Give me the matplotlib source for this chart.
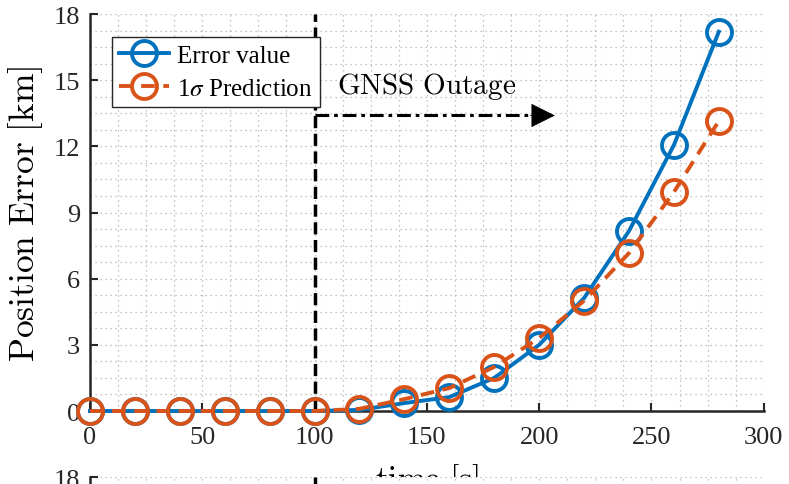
import numpy as np
import matplotlib.pyplot as plt
from matplotlib.ticker import AutoMinorLocator

plt.rcParams['font.family'] = ['Liberation Serif', 'DejaVu Serif']
plt.rcParams['mathtext.fontset'] = 'stix'

# position error during the outage, sampled every 20 s
time_s = [0, 20, 40, 60, 80, 100, 120, 140, 160, 180, 200, 220, 240, 260, 280]
err_value = [0, 0, 0, 0, 0, 0, 0.05, 0.36, 0.63, 1.5, 3.0, 5.12, 8.16, 12.06, 17.2]
sigma_pred = [0, 0, 0, 0, 0, 0, 0.1, 0.54, 1.04, 2.0, 3.31, 5.0, 7.16, 9.93, 13.15]

outage_start = 100
arrow_end = 207
arrow_y = 13.4

blue = '#0072BD'
orange = '#D95319'
axcol = '#262626'

fig = plt.figure(figsize=(7.89, 4.85), dpi=100)
ax = fig.add_axes([0.114, 0.1505, 0.854, 0.8185])


def style_axes(a):
    a.set_xlim(0, 300)
    a.set_ylim(0, 18)
    a.set_xticks([0, 50, 100, 150, 200, 250, 300])
    a.set_yticks([0, 3, 6, 9, 12, 15, 18])
    a.xaxis.set_minor_locator(AutoMinorLocator(4))
    a.yaxis.set_minor_locator(AutoMinorLocator(4))
    a.tick_params(which='major', direction='in', length=6, width=1.5,
                  colors=axcol, labelsize=19)
    a.tick_params(axis='x', pad=11)
    a.tick_params(axis='y', pad=7)
    a.tick_params(which='minor', length=0)
    a.grid(which='both', linestyle=(0, (1, 3)), color='#b0b0b0', linewidth=0.9)
    for s in ['top', 'right']:
        a.spines[s].set_visible(False)
    for s in ['left', 'bottom']:
        a.spines[s].set_linewidth(1.8)
        a.spines[s].set_color(axcol)
    a.axvline(outage_start, color='black', linestyle=(0, (3.5, 1.6)), linewidth=2.5)


style_axes(ax)

ax.plot(time_s, err_value, color=blue, linewidth=2.8, marker='o', markersize=18,
        markerfacecolor='none', markeredgewidth=2.8, label='Error value',
        clip_on=False, zorder=3)
ax.plot(time_s, sigma_pred, color=orange, linewidth=2.8, linestyle=(0, (3.5, 2.2)),
        marker='o', markersize=18, markerfacecolor='none', markeredgewidth=2.8,
        label=r'1$\sigma$ Prediction', clip_on=False, zorder=4)

# outage arrow
ax.plot([outage_start, arrow_end - 10], [arrow_y, arrow_y], color='black',
        linewidth=2.2, linestyle=(0, (4.5, 1.6, 1.2, 1.6)))
ax.annotate('', xy=(arrow_end, arrow_y), xytext=(arrow_end - 11, arrow_y),
            arrowprops=dict(arrowstyle='-|>,head_length=1.6,head_width=0.8',
                            color='black', lw=0.5, shrinkA=0, shrinkB=0))
ax.text(110, 14.75, r'$\mathrm{GNSS\ Outage}$', fontsize=21, ha='left',
        va='center', math_fontfamily='cm')

ax.set_ylabel(r'$\mathrm{Position\ Error\ [km]}$', fontsize=25.5, labelpad=6,
              math_fontfamily='cm')
ax.set_xlabel(r'$\mathrm{time\ [s]}$', fontsize=24, labelpad=9,
              math_fontfamily='cm')

leg = ax.legend(loc='upper left', bbox_to_anchor=(0.0325, 0.942), fontsize=18,
                frameon=True, fancybox=False, edgecolor=axcol, framealpha=1,
                handlelength=2.0, borderpad=0.3, labelspacing=0.4,
                handletextpad=0.3, borderaxespad=0)
leg.get_frame().set_linewidth(1.0)

# top of the next panel below, covering the lower part of the time label
ax2 = fig.add_axes([0.114, -0.8, 0.854, 0.8144])
style_axes(ax2)
ax2.set_facecolor('white')
ax2.set_zorder(5)
ax2.tick_params(labelbottom=False)

fig.savefig('out.png', dpi=100)
